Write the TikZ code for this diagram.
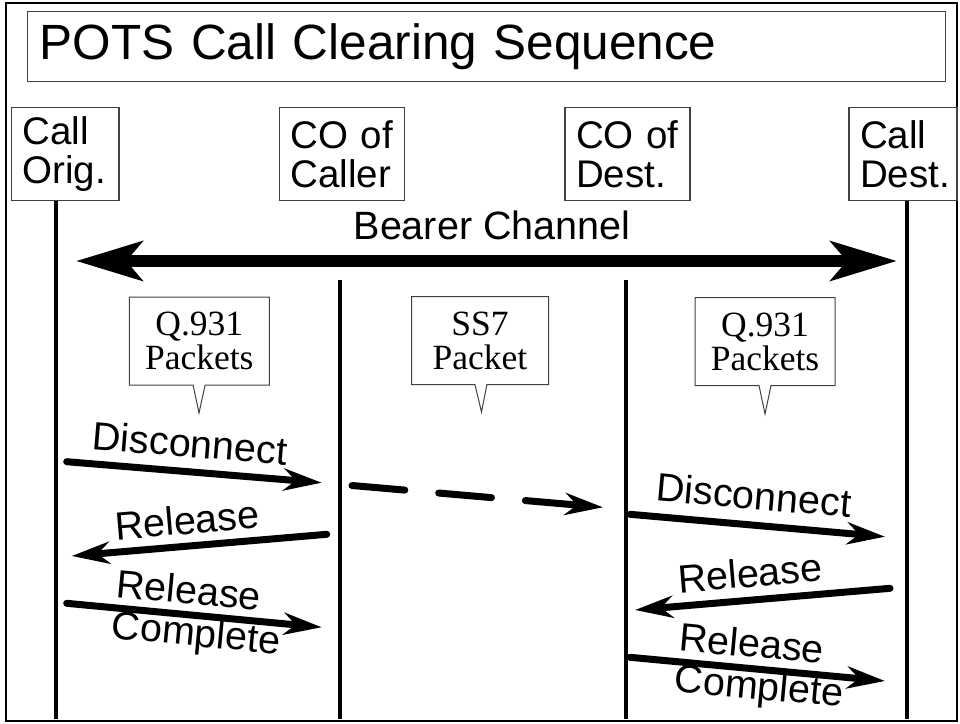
\documentclass[tikz,border=0pt]{standalone}
\usepackage{fontspec}
\setmainfont{Liberation Sans}
\newfontfamily\serifface{Liberation Serif}
\usetikzlibrary{arrows.meta,shapes.callouts}

\begin{document}
\begin{tikzpicture}[x=1pt,y=-1pt,
  lbl/.style={font=\fontsize{39.5}{40}\selectfont, inner sep=0pt},
  entity/.style={draw=black!75, line width=1.2pt, inner sep=0pt,
    font=\fontsize{38.5}{39.3}\selectfont, align=left,
    inner xsep=11pt, inner ysep=0pt, minimum height=92.5pt},
  lifeline/.style={line width=4pt},
  msg/.style={line width=7pt, line cap=round,
    -{Stealth[length=38pt,width=22pt,inset=12pt]}},
  note/.style={rectangle callout, draw=black!75, line width=1pt,
    font=\serifface\fontsize{35.5}{34}\selectfont, align=center,
    minimum width=140pt, minimum height=88pt,
    callout pointer width=12pt, inner sep=0pt}]

\useasboundingbox (0,0) rectangle (960,723);

% outer frame
\draw[line width=2pt] (5.5,3) rectangle (957,721);

% heading
\node[draw=black!75, line width=1.2pt, font=\fontsize{49.5}{50}\selectfont,
  inner xsep=12pt, inner ysep=0pt, text width=894pt, minimum height=70pt,
  align=left] (title) at (486.8,46.7) {POTS Call Clearing Sequence};

% parties
\node[entity, text width=85.3pt]  (orig)   at (65.3,154)  {Call\\Orig.};
\node[entity, text width=103pt]   (caller) at (341.8,154) {CO of\\Caller};
\node[entity, text width=103pt]   (codest) at (627.5,154) {CO of\\Dest.};
\node[entity, text width=86pt]    (dest)   at (903,154)   {Call\\Dest.};

% lifelines
\coordinate (origEnd)   at (56,719);
\coordinate (callerTop) at (340,280);
\coordinate (callerEnd) at (340,719);
\coordinate (codestTop) at (626,280);
\coordinate (codestEnd) at (626,719);
\coordinate (destEnd)   at (906.5,719);
\draw[lifeline] (orig.south -| origEnd) -- (origEnd);
\draw[lifeline] (callerTop) -- (callerEnd);
\draw[lifeline] (codestTop) -- (codestEnd);
\draw[lifeline] (dest.south -| destEnd) -- (destEnd);

% bearer channel
\node[lbl] (bearer) at (492,225) {Bearer Channel};
\coordinate (bL) at (76,261);
\coordinate (bR) at (897,261);
\draw[line width=12pt,
  {Stealth[length=66pt,width=39pt,inset=16pt]}-{Stealth[length=66pt,width=39pt,inset=16pt]}]
  (bL) -- (bR);

% protocol callouts
\node[note, callout absolute pointer={(199,413)}]  (q1)  at (199.3,341) {Q.931\\Packets};
\node[note, minimum width=137pt, callout absolute pointer={(481.5,412)}] (ss7) at (480,340.5) {SS7\\Packet};
\node[note, callout absolute pointer={(765,414)}]  (q2)  at (765,341.5) {Q.931\\Packets};

% messages, originating side
\coordinate (d1a) at (66.7,461.7);  \coordinate (d1b) at (321.7,482.7);
\coordinate (r1a) at (326.7,534.3); \coordinate (r1b) at (71.7,556);
\coordinate (c1a) at (66.7,603.3);  \coordinate (c1b) at (321.7,627.3);
\draw[msg] (d1a) -- (d1b);
\draw[msg] (r1a) -- (r1b);
\draw[msg] (c1a) -- (c1b);
\node[lbl, rotate=-4.7] (d1l)  at (190,443) {Disconnect};
\node[lbl, rotate=4.9]  (r1l)  at (187,520) {Release};
\node[lbl, rotate=-5.4] (c1l)  at (189,590) {Release};
\node[lbl, rotate=-5.4] (c1m)  at (196,636) {Complete};

% SS7 signalling between the offices
\coordinate (s1a) at (352,485.5); \coordinate (s1b) at (603,507.3);
\draw[msg, dash pattern=on 53pt off 34pt] (s1a) -- (s1b);

% messages, destination side
\coordinate (d2a) at (630,514.3);  \coordinate (d2b) at (885,536.7);
\coordinate (r2a) at (890,588.3);  \coordinate (r2b) at (635,610);
\coordinate (c2a) at (630,657.3);  \coordinate (c2b) at (885,681);
\draw[msg] (d2a) -- (d2b);
\draw[msg] (r2a) -- (r2b);
\draw[msg] (c2a) -- (c2b);
\node[lbl, rotate=-5.0] (d2l) at (754,495) {Disconnect};
\node[lbl, rotate=4.9]  (r2l) at (750,573) {Release};
\node[lbl, rotate=-5.3] (c2l) at (752,643) {Release};
\node[lbl, rotate=-5.3] (c2m) at (759,689) {Complete};
\end{tikzpicture}
\end{document}
